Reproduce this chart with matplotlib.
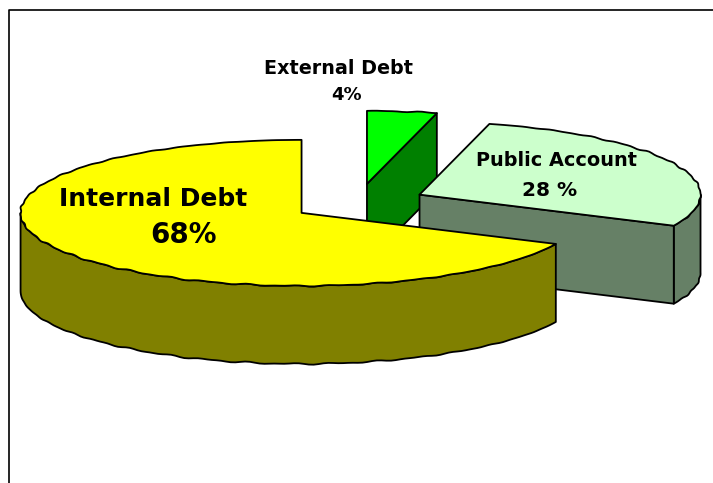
import numpy as np
import matplotlib
matplotlib.use("Agg")
import matplotlib.pyplot as plt
from matplotlib.patches import Polygon
from matplotlib.lines import Line2D

# Shares in clockwise drawing order starting from twelve o'clock
categories = ["External Debt", "Public Account", "Internal Debt"]
shares = [4, 28, 68]
label_lines = [["External Debt", "4%"], ["Public Account", "28 %"], ["Internal Debt", "68%"]]

top_colors = ["#00FF00", "#CCFFCC", "#FFFF00"]
side_colors = ["#008000", "#668066", "#808000"]

# Pie projection, in pixels
CX, CY = 358.5, 202.7
RX, RY = 281.0, 73.0
DEPTH = 78.0
EXPLODE_X, EXPLODE_Y = 0.24, 0.26
EDGE_LW = 1.3
RIPPLE = 0.55

fig = plt.figure(figsize=(7.13, 4.83), dpi=100, facecolor="white")
ax = fig.add_axes([0, 0, 1, 1])
ax.set_xlim(0, 713)
ax.set_ylim(483, 0)
ax.axis("off")

# Chart frame: only the top and left sides fall inside the canvas
ax.add_line(Line2D([8.5, 8.5, 713], [483, 9.5, 9.5], color="black", lw=1.2, zorder=1))


def rim_points(center, start, end):
    """Points along a slightly scalloped rim between two clockwise angles (degrees)."""
    n = max(int(abs(end - start)), 2) + 1
    deg = np.linspace(start, end, n)
    t = np.radians(deg)
    nx, ny = np.sin(t) / RX, -np.cos(t) / RY
    norm = np.hypot(nx, ny)
    wobble = RIPPLE * (np.sin(t * 41) + 0.7 * np.sin(t * 67 + 1.0)) * np.sin(np.pi * (deg - start) / (end - start))
    x = center[0] + RX * np.sin(t) + wobble * nx / norm
    y = center[1] - RY * np.cos(t) + wobble * ny / norm
    return np.column_stack([x, y])


def patch(points, color, z):
    ax.add_patch(Polygon(points, closed=True, facecolor=color, edgecolor="black",
                         lw=EDGE_LW, joinstyle="round", zorder=z))


def radial_face(center, angle, color, z):
    t = np.radians(angle)
    p = np.array([center[0] + RX * np.sin(t), center[1] - RY * np.cos(t)])
    c = np.array(center)
    drop = np.array([0, DEPTH])
    patch([c, p, p + drop, c + drop], color, z)


start = 0.0
for i, share in enumerate(shares):
    sweep = share * 3.6
    end = start + sweep
    mid = np.radians(start + sweep / 2)
    center = (CX + EXPLODE_X * RX * np.sin(mid), CY - EXPLODE_Y * RY * np.cos(mid))
    z = 2 + i

    # Side wall: the part of the outer rim that faces the viewer
    lo, hi = max(start, 90.0), min(end, 270.0)
    if hi > lo:
        arc = rim_points(center, lo, hi)
        patch(np.vstack([arc, arc[::-1] + [0, DEPTH]]), side_colors[i], z)

    # Cut faces that turn towards the viewer
    if np.sin(np.radians(end)) > 1e-6:
        radial_face(center, end, side_colors[i], z)
    if np.sin(np.radians(start)) < -1e-6:
        radial_face(center, start, side_colors[i], z)

    # Top surface
    patch(np.vstack([[center], rim_points(center, start, end)]), top_colors[i], z)
    start = end

# Slice labels
font = "DejaVu Sans"
ax.text(338, 68, label_lines[0][0], ha="center", va="center", fontsize=13.8, fontweight="bold", family=font, zorder=9)
ax.text(347, 95, label_lines[0][1], ha="center", va="center", fontsize=13, fontweight="bold", family=font, zorder=9)
ax.text(556, 161, label_lines[1][0], ha="center", va="center", fontsize=13.9, fontweight="bold", family=font, zorder=9)
ax.text(550, 190, label_lines[1][1], ha="center", va="center", fontsize=14.5, fontweight="bold", family=font, zorder=9)
ax.text(153, 199, label_lines[2][0], ha="center", va="center", fontsize=18, fontweight="bold", family=font, zorder=9)
ax.text(183, 235, label_lines[2][1], ha="center", va="center", fontsize=20, fontweight="bold", family=font, zorder=9)

fig.savefig("out.png", dpi=100, facecolor="white")
